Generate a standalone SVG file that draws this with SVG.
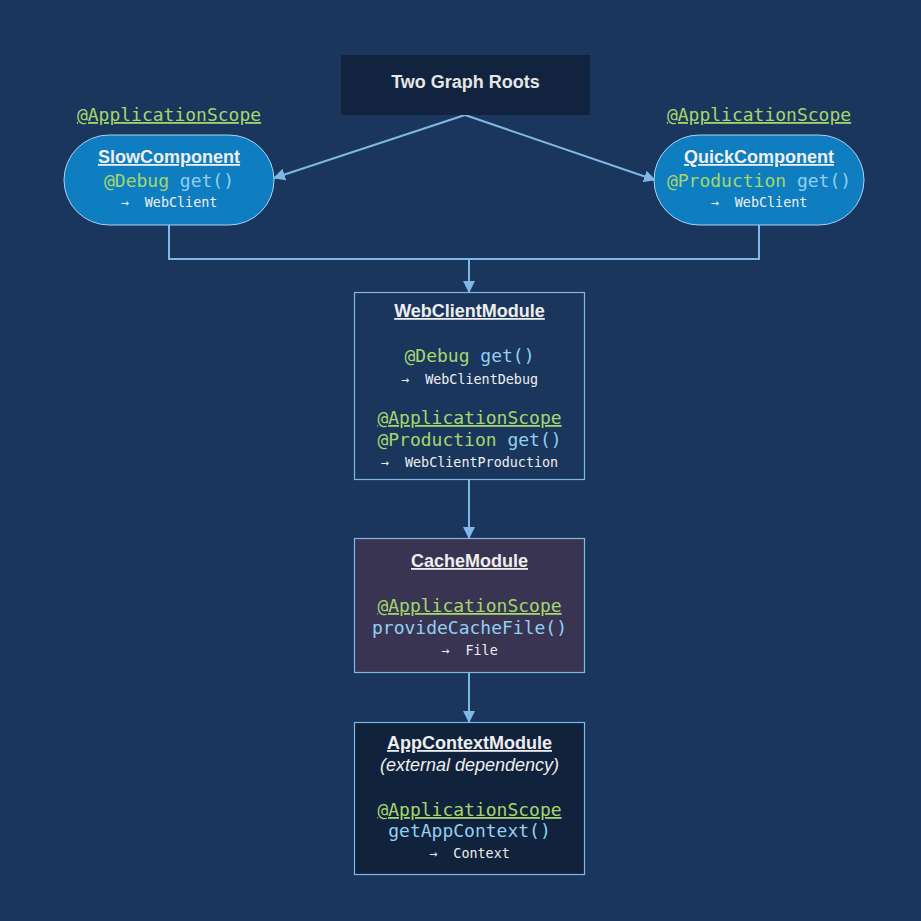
<svg xmlns="http://www.w3.org/2000/svg" width="921" height="921" viewBox="0 0 921 921">
<defs>
<marker id="ah" viewBox="0 0 12 12" refX="11" refY="6" markerWidth="12" markerHeight="12" markerUnits="userSpaceOnUse" orient="auto">
<path d="M0,0 L12,6 L0,12 z" fill="#7fb8e6"/>
</marker>
<style>
.t{font-family:"Liberation Sans",Arial,sans-serif;font-weight:bold;font-size:18px;fill:#eeeeee;text-anchor:middle;text-decoration:underline}
.m{font-family:"DejaVu Sans Mono",monospace;font-size:18px;text-anchor:middle}
.s{font-family:"DejaVu Sans Mono",monospace;font-size:13.4px;fill:#eeeeee;text-anchor:middle;white-space:pre}
.g{fill:#a5d66e}
.b{fill:#92cff2}
.u{text-decoration:underline}
.ln{fill:none;stroke:#7fb8e6;stroke-width:2}
.box{stroke:#7fb8e6;stroke-width:1.2}
</style>
</defs>
<rect width="921" height="921" fill="#1b365c"/>
<g id="connectors">
<path class="ln" d="M465,115 L274,178" marker-end="url(#ah)"/>
<path class="ln" d="M465,115 L655,180" marker-end="url(#ah)"/>
<path class="ln" d="M169,225 V259 H759 V225"/>
<path class="ln" d="M469,259 V292" marker-end="url(#ah)"/>
<path class="ln" d="M469,480 V538" marker-end="url(#ah)"/>
<path class="ln" d="M469,672 V722" marker-end="url(#ah)"/>
</g>
<g id="title">
<rect x="341" y="55" width="249" height="60" fill="#12233f"/>
<text x="465.5" y="88" style="font-family:'Liberation Sans',Arial,sans-serif;font-weight:bold;font-size:18px;fill:#e6e6e6;text-anchor:middle">Two Graph Roots</text>
</g>
<g id="slow">
<text x="169" y="121" class="m g u">@ApplicationScope</text>
<rect x="64" y="135" width="210" height="90" rx="45" fill="#0e7ec0" stroke="#a6d3f2" stroke-width="1"/>
<text x="169" y="163" class="t">SlowComponent</text>
<text x="169" y="187" class="m"><tspan class="g">@Debug</tspan><tspan class="b"> get()</tspan></text>
<text x="169" y="207" class="s">→  WebClient</text>
</g>
<g id="quick">
<text x="759" y="121" class="m g u">@ApplicationScope</text>
<rect x="654" y="135" width="210" height="90" rx="45" fill="#0e7ec0" stroke="#a6d3f2" stroke-width="1"/>
<text x="759" y="163" class="t">QuickComponent</text>
<text x="759" y="187" class="m"><tspan class="g">@Production</tspan><tspan class="b"> get()</tspan></text>
<text x="759" y="207" class="s">→  WebClient</text>
</g>
<g id="webclient">
<rect x="354.5" y="292.5" width="230" height="187" fill="#1b365c" class="box"/>
<text x="469.5" y="317" class="t">WebClientModule</text>
<text x="469.5" y="362" class="m"><tspan class="g">@Debug</tspan><tspan class="b"> get()</tspan></text>
<text x="469.5" y="384" class="s">→  WebClientDebug</text>
<text x="469.5" y="424" class="m g u">@ApplicationScope</text>
<text x="469.5" y="446" class="m"><tspan class="g">@Production</tspan><tspan class="b"> get()</tspan></text>
<text x="469.5" y="467" class="s">→  WebClientProduction</text>
</g>
<g id="cache">
<rect x="354.5" y="538.5" width="230" height="134" fill="#3a3453" class="box"/>
<text x="469.5" y="567" class="t">CacheModule</text>
<text x="469.5" y="612" class="m g u">@ApplicationScope</text>
<text x="469.5" y="634" class="m b">provideCacheFile()</text>
<text x="469.5" y="655" class="s">→  File</text>
</g>
<g id="appcontext">
<rect x="354.5" y="722.5" width="230" height="152" fill="#11223d" class="box"/>
<text x="469.5" y="749" class="t">AppContextModule</text>
<text x="469.5" y="771" style="font-family:'Liberation Sans',Arial,sans-serif;font-style:italic;font-size:18px;fill:#eeeeee;text-anchor:middle">(external dependency)</text>
<text x="469.5" y="816" class="m g u">@ApplicationScope</text>
<text x="469.5" y="837" class="m b">getAppContext()</text>
<text x="469.5" y="858" class="s">→  Context</text>
</g>
</svg>
